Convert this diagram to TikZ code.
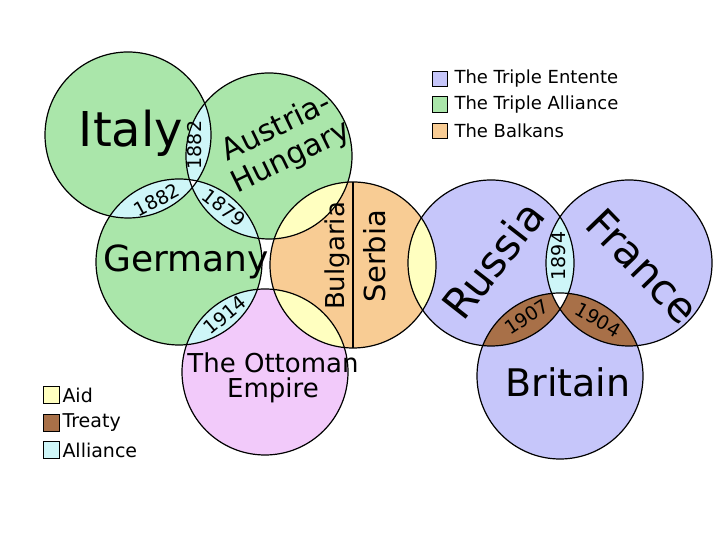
\documentclass[tikz,border=0pt]{standalone}
\usepackage{fontspec}
\setmainfont{DejaVu Sans}
\usepackage{xcolor}
\usepackage{tikz}
\usetikzlibrary{positioning}
\definecolor{tripall}{RGB}{170,230,170}
\definecolor{entente}{RGB}{198,198,250}
\definecolor{balkan}{RGB}{248,204,148}
\definecolor{ottom}{RGB}{242,202,250}
\definecolor{aidc}{RGB}{255,255,192}
\definecolor{allyc}{RGB}{206,246,248}
\definecolor{treatyc}{RGB}{168,112,72}
\tikzset{
  ctry/.style={draw=black, line width=1.2pt},
  yr/.style={inner sep=0pt, font=\fontsize{19}{19}\selectfont},
  keybox/.style={draw=black, line width=1.1pt, minimum size=15.5pt, inner sep=0pt},
  keytxt/.style={inner sep=0pt, font=\fontsize{18}{18}\selectfont},
}

\begin{document}
\begin{tikzpicture}[x=1pt, y=1pt]
\useasboundingbox (0,0) rectangle (720,540);
% circle centres
\coordinate (italy) at (128,405);
\coordinate (austria) at (269,384);
\coordinate (germany) at (179,278);
\coordinate (balkans) at (353,275);
\coordinate (ottoman) at (265,168);
\coordinate (russia) at (491,277);
\coordinate (france) at (629,277);
\coordinate (britain) at (560,164);
% base discs
\foreach \c/\col in {italy/tripall, austria/tripall, germany/tripall, balkans/balkan,
  ottoman/ottom, russia/entente, france/entente, britain/entente}
  \fill[\col] (\c) circle (83);
% overlaps
\foreach \a/\b/\col in {italy/austria/allyc, italy/germany/allyc, germany/austria/allyc,
  austria/balkans/aidc, germany/ottoman/allyc, ottoman/balkans/aidc, balkans/russia/aidc,
  russia/france/allyc, russia/britain/treatyc, france/britain/treatyc}
{
  \begin{scope}
    \clip (\a) circle (83);
    \fill[\col] (\b) circle (83);
  \end{scope}
}
% triple overlaps left blank
\begin{scope}
  \clip (italy) circle (83);
  \clip (austria) circle (83);
  \fill[white] (germany) circle (83);
\end{scope}
\begin{scope}
  \clip (russia) circle (83);
  \clip (france) circle (83);
  \fill[white] (britain) circle (83);
\end{scope}
% outlines
\draw[ctry] (balkans) ++(0,83) -- ++(0,-166);
\foreach \c in {italy, austria, germany, balkans, ottoman, russia, france, britain}
  \draw[ctry] (\c) circle (83);
% country names
\node[anchor=base, inner sep=0pt, font=\fontsize{48}{48}\selectfont] (italyname) at (131,393) {Italy};
\node[align=center, rotate=26, inner sep=0pt, font=\fontsize{30}{33}\selectfont] (austrianame) at (284,397) {Austria-\\Hungary};
\node[anchor=base, inner sep=0pt, font=\fontsize{36}{36}\selectfont] (germanyname) at (186,268) {Germany};
\node[rotate=90, anchor=base, inner sep=0pt, font=\fontsize{26}{26}\selectfont] (bulgarianame) at (344,284) {Bulgaria};
\node[rotate=90, anchor=base, inner sep=0pt, font=\fontsize{29}{29}\selectfont] (serbianame) at (385,284) {Serbia};
\node[align=center, inner sep=0pt, font=\fontsize{26}{25}\selectfont] (ottomanname) at (273,162) {The Ottoman\\Empire};
\node[rotate=52, inner sep=0pt, font=\fontsize{42}{42}\selectfont] (russianame) at (493,280) {Russia};
\node[rotate=-46, inner sep=0pt, font=\fontsize{42}{42}\selectfont] (francename) at (643,274) {France};
\node[anchor=base, inner sep=0pt, font=\fontsize{38}{38}\selectfont] (britainname) at (568,143) {Britain};
% treaty years
\node[yr, rotate=90] (yrIA) at (195,395) {1882};
\node[yr, rotate=28] (yrIG) at (157,340) {1882};
\node[yr, rotate=-38] (yrGA) at (224,332) {1879};
\node[yr, rotate=40] (yrGO) at (225,225) {1914};
\node[yr, rotate=90] (yrRF) at (559,284) {1894};
\node[yr, rotate=33] (yrRB) at (527,223) {1907};
\node[yr, rotate=-30] (yrFB) at (598,220) {1904};
% key: blocs
\node[keybox, fill=entente] (kent) at (440,461) {};
\node[keytxt, right=6pt of kent] (kenttxt) {The Triple Entente};
\node[keybox, fill=tripall] (kall) at (440,435.5) {};
\node[keytxt, right=6pt of kall] (kalltxt) {The Triple Alliance};
\node[keybox, fill=balkan] (kbal) at (440,409) {};
\node[keytxt, right=6pt of kbal] (kbaltxt) {The Balkans};
% key: links
\node[keybox, minimum size=16.5pt, fill=aidc] (kaid) at (51.5,145) {};
\node[keytxt, font=\fontsize{19}{19}\selectfont, right=2pt of kaid] (kaidtxt) {Aid};
\node[keybox, minimum size=16.5pt, fill=treatyc] (ktre) at (51.5,117) {};
\node[keytxt, font=\fontsize{19}{19}\selectfont, right=2pt of ktre] (ktretxt) {Treaty};
\node[keybox, minimum size=16.5pt, fill=allyc] (kaly) at (51.5,90) {};
\node[keytxt, font=\fontsize{19}{19}\selectfont, right=2pt of kaly] (kalytxt) {Alliance};
\end{tikzpicture}
\end{document}
